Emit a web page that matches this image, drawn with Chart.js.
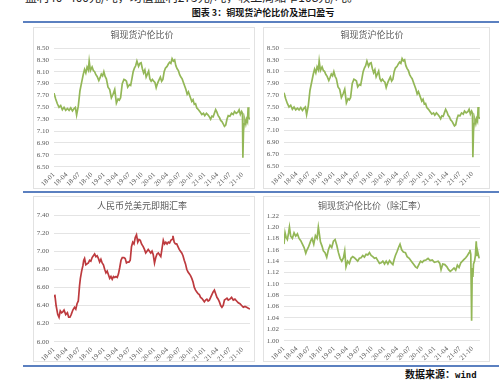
<!DOCTYPE html>
<html lang="zh">
<head>
<meta charset="UTF-8">
<title>铜现货沪伦比价及进口盈亏</title>
<script src="https://cdn.jsdelivr.net/npm/chart.js"></script>
<style>
    body { margin: 0; width: 499px; height: 388px; overflow: hidden; background: #fff; position: relative;
           font-family: "Noto Sans CJK SC", sans-serif; }
    .lead { position: absolute; left: 25px; top: -12px; font-size: 12px; color: #222; white-space: nowrap; }
    .heading { position: absolute; left: 0; width: 526px; top: 6px; text-align: center; font-size: 9px;
               font-weight: bold; color: #111; }
    .rule { position: absolute; left: 23px; right: 0; height: 2px; background: #5b80c0; }
    .panel { position: absolute; border: 1px solid #e2e2e2; background: #fff; }
    .panel canvas { display: block; }
    .source { position: absolute; left: 405px; top: 366px; font-size: 10px; font-weight: bold; color: #111; white-space: nowrap; }
    .source span { font-family: "DejaVu Sans Mono", monospace; font-size: 9px; }
</style>
</head>
<body>
<div class="lead">盈利40~400元/吨，均值盈利275元/吨，较上周缩窄108元/吨。</div>
<div class="heading">图表 3：铜现货沪伦比价及进口盈亏</div>
<div class="rule" style="top:21px"></div>

<div class="panel" style="left:33px;top:27px;width:220px;height:160px"><canvas id="c1" width="220" height="160"></canvas></div>
<div class="panel" style="left:263px;top:27px;width:225px;height:160px"><canvas id="c2" width="225" height="160"></canvas></div>
<div class="rule" style="top:191px"></div>
<div class="panel" style="left:33px;top:196px;width:220px;height:164px"><canvas id="c3" width="220" height="164"></canvas></div>
<div class="panel" style="left:263px;top:196px;width:225px;height:164px"><canvas id="c4" width="225" height="164"></canvas></div>
<div class="rule" style="top:365px"></div>
<div class="source">数据来源：<span>wind</span></div>

<script>
    // x values are months counted from 2018-01
    const quarterLabels = ['18-01', '18-04', '18-07', '18-10', '19-01', '19-04', '19-07', '19-10',
                           '20-01', '20-04', '20-07', '20-10', '21-01', '21-04', '21-07', '21-10'];

    // 铜现货沪伦比价
    const ratioMonths = [
        0, 0.4, 0.8, 1.2, 1.6, 2.0, 2.4, 2.8, 3.2, 3.6,
        4.0, 4.4, 4.8, 5.1, 5.4, 5.8, 6.2, 6.6, 7.0, 7.3,
        7.6, 7.9, 8.2, 8.4, 8.7, 9.1, 9.4, 9.7, 10.0, 10.3,
        10.7, 11.0, 11.3, 11.6, 11.9, 12.2, 12.5, 12.9, 13.3, 13.7,
        14.1, 14.5, 14.9, 15.3, 15.6, 15.9, 16.3, 16.7, 17.0, 17.3,
        17.6, 18.0, 18.3, 18.6, 18.9, 19.2, 19.5, 19.8, 20.2, 20.5,
        20.8, 21.1, 21.4, 21.7, 22.0, 22.3, 22.6, 22.9, 23.2, 23.5,
        23.8, 24.1, 24.4, 24.7, 25.0, 25.4, 25.7, 26.0, 26.3, 26.6,
        27.0, 27.3, 27.6, 27.9, 28.2, 28.5, 28.8, 29.1, 29.4, 29.7,
        30.0, 30.3, 30.6, 30.9, 31.2, 31.5, 31.8, 32.1, 32.5, 32.9,
        33.2, 33.5, 33.8, 34.1, 34.5, 34.9, 35.3, 35.7, 36.0, 36.4,
        36.8, 37.1, 37.4, 37.7, 38.0, 38.3, 38.6, 38.9, 39.2, 39.5,
        39.8, 40.1, 40.4, 40.7, 41.0, 41.3, 41.6, 42.0, 42.4, 42.8,
        43.1, 43.5, 43.9, 44.2, 44.5, 44.8, 45.0, 45.1, 45.25, 45.4,
        45.6, 45.8, 46.0, 46.2, 46.35, 46.5, 46.8
    ];
    const ratioValues = [
        7.74, 7.64, 7.56, 7.50, 7.53, 7.46, 7.50, 7.45, 7.48, 7.45,
        7.49, 7.44, 7.48, 7.50, 7.37, 7.52, 7.78, 7.92, 8.06, 8.14,
        8.08, 8.18, 8.13, 8.28, 8.12, 8.18, 8.12, 8.10, 8.05, 8.02,
        7.95, 8.00, 8.06, 8.03, 8.10, 8.02, 7.98, 7.84, 7.80, 7.66,
        7.72, 7.80, 7.57, 7.64, 7.62, 7.66, 7.90, 7.97, 7.96, 7.94,
        7.84, 7.88, 7.87, 7.98, 8.10, 8.16, 8.20, 8.28, 8.19, 8.24,
        8.25, 8.15, 8.08, 8.13, 8.01, 8.06, 8.11, 7.98, 7.94, 7.97,
        7.94, 7.92, 7.83, 7.90, 7.95, 8.01, 7.94, 7.97, 8.10, 8.16,
        8.19, 8.23, 8.26, 8.24, 8.32, 8.28, 8.30, 8.20, 8.15, 8.12,
        8.05, 8.01, 7.98, 7.92, 7.86, 7.80, 7.72, 7.76, 7.68, 7.60,
        7.63, 7.55, 7.56, 7.49, 7.46, 7.42, 7.38, 7.40, 7.36, 7.40,
        7.37, 7.34, 7.30, 7.35, 7.34, 7.40, 7.46, 7.42, 7.36, 7.33,
        7.28, 7.26, 7.22, 7.18, 7.20, 7.30, 7.36, 7.35, 7.40, 7.38,
        7.43, 7.40, 7.42, 7.46, 7.38, 7.43, 7.40, 6.65, 7.10, 7.22,
        7.28, 7.22, 7.30, 7.26, 7.50, 7.33, 7.30
    ];

    // 人民币兑美元即期汇率
    const fxMonths = [
        0, 0.2, 0.5, 0.9, 1.2, 1.5, 1.8, 2.1, 2.4, 2.8,
        3.2, 3.5, 3.8, 4.1, 4.5, 4.9, 5.2, 5.5, 5.8, 6.1,
        6.3, 6.6, 6.9, 7.1, 7.3, 7.6, 7.9, 8.2, 8.5, 8.8,
        9.1, 9.4, 9.7, 10.0, 10.3, 10.6, 10.9, 11.2, 11.5, 11.8,
        12.1, 12.4, 12.7, 13.0, 13.3, 13.6, 13.9, 14.2, 14.5, 14.8,
        15.1, 15.4, 15.7, 16.0, 16.3, 16.7, 17.0, 17.3, 17.6, 17.9,
        18.2, 18.5, 18.8, 19.1, 19.4, 19.7, 20.0, 20.3, 20.6, 20.9,
        21.3, 21.6, 21.9, 22.2, 22.5, 22.8, 23.1, 23.4, 23.7, 24.0,
        24.3, 24.6, 24.9, 25.2, 25.5, 25.8, 26.1, 26.4, 26.7, 27.0,
        27.3, 27.6, 27.9, 28.2, 28.4, 28.7, 29.0, 29.3, 29.6, 29.9,
        30.2, 30.5, 30.8, 31.1, 31.4, 31.7, 32.0, 32.3, 32.6, 32.9,
        33.2, 33.5, 33.8, 34.1, 34.4, 34.7, 35.0, 35.3, 35.6, 35.9,
        36.2, 36.5, 36.8, 37.1, 37.4, 37.7, 38.0, 38.3, 38.6, 38.9,
        39.2, 39.5, 39.8, 40.1, 40.4, 40.7, 41.0, 41.3, 41.6, 42.0,
        42.4, 42.8, 43.2, 43.6, 44.0, 44.4, 44.8, 45.2, 45.6, 46.0,
        46.4, 46.8
    ];
    const fxValues = [
        6.50, 6.52, 6.40, 6.30, 6.27, 6.34, 6.32, 6.33, 6.35, 6.30,
        6.32, 6.27, 6.27, 6.30, 6.35, 6.38, 6.36, 6.42, 6.45, 6.62,
        6.70, 6.78, 6.84, 6.90, 6.92, 6.85, 6.86, 6.87, 6.90, 6.89,
        6.93, 6.95, 6.97, 6.94, 6.95, 6.92, 6.88, 6.91, 6.87, 6.85,
        6.80, 6.76, 6.78, 6.74, 6.70, 6.72, 6.69, 6.72, 6.71, 6.72,
        6.71, 6.75, 6.82, 6.90, 6.93, 6.93, 6.92, 6.87, 6.88, 6.88,
        6.90, 7.05, 7.10, 7.08, 7.15, 7.18, 7.10, 7.13, 7.12, 7.08,
        7.05, 7.02, 6.98, 7.00, 7.02, 7.00, 6.98, 7.00, 6.96, 6.87,
        6.93, 6.97, 6.98, 6.96, 6.94, 7.03, 7.12, 7.08, 7.10, 7.08,
        7.10, 7.09, 7.12, 7.13, 7.17, 7.10, 7.08, 7.08, 7.05, 7.02,
        7.00, 6.98, 6.95, 6.90, 6.86, 6.80, 6.77, 6.75, 6.73, 6.70,
        6.66, 6.60, 6.57, 6.55, 6.53, 6.52, 6.49, 6.48, 6.46, 6.44,
        6.46, 6.47, 6.45, 6.46, 6.49, 6.52, 6.55, 6.57, 6.53, 6.49,
        6.47, 6.44, 6.40, 6.38, 6.40, 6.46, 6.47, 6.48, 6.46, 6.47,
        6.49, 6.46, 6.47, 6.45, 6.43, 6.42, 6.40, 6.38, 6.39, 6.38,
        6.37, 6.36
    ];

    // 铜现货沪伦比价（除汇率）
    const adjMonths = [
        0, 0.25, 0.5, 0.8, 1.1, 1.3, 1.6, 2.0, 2.4, 2.8,
        3.2, 3.6, 4.0, 4.4, 4.8, 5.2, 5.5, 5.8, 6.1, 6.4,
        6.7, 7.1, 7.5, 7.9, 8.2, 8.4, 8.7, 9.1, 9.4, 9.8,
        10.2, 10.6, 11.0, 11.4, 11.8, 12.2, 12.6, 13.0, 13.4, 13.8,
        14.2, 14.5, 14.8, 15.2, 15.6, 16.0, 16.4, 16.8, 17.2, 17.6,
        18.0, 18.4, 18.8, 19.2, 19.6, 20.0, 20.4, 20.8, 21.2, 21.6,
        22.0, 22.4, 22.8, 23.2, 23.6, 24.0, 24.4, 24.8, 25.2, 25.6,
        26.0, 26.3, 26.6, 27.0, 27.4, 27.7, 28.1, 28.5, 29.0, 29.4,
        29.9, 30.4, 30.9, 31.4, 31.8, 32.2, 32.6, 33.0, 33.4, 33.9,
        34.4, 34.9, 35.4, 35.9, 36.4, 36.8, 37.2, 37.5, 37.9, 38.4,
        38.9, 39.3, 39.7, 40.2, 40.6, 41.0, 41.4, 41.8, 42.2, 42.6,
        43.0, 43.4, 43.8, 44.2, 44.4, 44.6, 44.8, 44.95, 45.1, 45.25,
        45.5, 45.7, 45.9, 46.1, 46.3, 46.6
    ];
    const adjValues = [
        1.170, 1.190, 1.182, 1.178, 1.190, 1.200, 1.184, 1.180, 1.190, 1.184,
        1.188, 1.180, 1.176, 1.170, 1.164, 1.154, 1.160, 1.164, 1.170, 1.176,
        1.180, 1.170, 1.185, 1.180, 1.200, 1.190, 1.174, 1.166, 1.158, 1.155,
        1.147, 1.160, 1.168, 1.164, 1.175, 1.178, 1.168, 1.155, 1.145, 1.140,
        1.146, 1.158, 1.130, 1.140, 1.136, 1.145, 1.148, 1.146, 1.143, 1.140,
        1.145, 1.146, 1.150, 1.147, 1.152, 1.151, 1.155, 1.150, 1.148, 1.145,
        1.146, 1.141, 1.136, 1.137, 1.140, 1.135, 1.140, 1.135, 1.141, 1.137,
        1.134, 1.143, 1.150, 1.157, 1.165, 1.170, 1.160, 1.156, 1.155, 1.148,
        1.145, 1.140, 1.135, 1.130, 1.128, 1.134, 1.140, 1.138, 1.141, 1.142,
        1.145, 1.141, 1.142, 1.138, 1.139, 1.140, 1.136, 1.125, 1.135, 1.134,
        1.130, 1.125, 1.122, 1.125, 1.128, 1.124, 1.133, 1.129, 1.137, 1.140,
        1.143, 1.146, 1.150, 1.155, 1.160, 1.152, 1.035, 1.128, 1.112, 1.135,
        1.140, 1.150, 1.175, 1.150, 1.155, 1.145
    ];

    const green = '#93b757';
    const red = '#bd3a3e';
    const tickFont = { family: 'Liberation Serif', size: 7 };

    function drawPanel(id, title, xs, ys, color, yMin, yMax, yStep, plotTop, titleTop, axisHeight, padRight) {
        const points = xs.map((x, i) => ({ x: x, y: ys[i] }));
        return new Chart(document.getElementById(id), {
            type: 'line',
            data: {
                datasets: [{
                    data: points,
                    borderColor: color,
                    borderWidth: 1.7,
                    pointRadius: 0,
                    tension: 0
                }]
            },
            options: {
                responsive: false,
                animation: false,
                layout: { padding: { top: 0, right: padRight, bottom: 0, left: 0 } },
                plugins: {
                    legend: { display: false },
                    tooltip: { enabled: false },
                    title: {
                        display: true,
                        text: title,
                        color: '#595959',
                        font: { family: 'Noto Sans CJK SC', size: 9, weight: 'normal', lineHeight: 1.2 },
                        padding: { top: titleTop, bottom: plotTop - titleTop - 10.8 }
                    }
                },
                scales: {
                    x: {
                        type: 'linear',
                        min: 0,
                        max: 46.8,
                        grid: { display: false, drawTicks: false },
                        border: { display: false },
                        afterFit: (s) => { s.height = axisHeight; },
                        ticks: {
                            stepSize: 3,
                            includeBounds: false,
                            autoSkip: false,
                            minRotation: 45,
                            maxRotation: 45,
                            padding: 4,
                            color: '#595959',
                            font: tickFont,
                            callback: (v) => quarterLabels[Math.round(v / 3)]
                        }
                    },
                    y: {
                        min: yMin,
                        max: yMax,
                        afterFit: (s) => { s.width = 20; },
                        grid: { color: '#e4e4e4', drawTicks: false },
                        border: { display: false },
                        ticks: {
                            stepSize: yStep,
                            autoSkip: false,
                            padding: 5,
                            color: '#595959',
                            font: tickFont,
                            callback: (v) => v.toFixed(2)
                        }
                    }
                }
            }
        });
    }

    drawPanel('c1', '铜现货沪伦比价', ratioMonths, ratioValues, green, 6.5, 8.5, 0.2, 20, 1, 21.3, 4);
    drawPanel('c2', '铜现货沪伦比价', ratioMonths, ratioValues, green, 6.5, 8.5, 0.2, 20, 1, 22, 9);
    drawPanel('c3', '人民币兑美元即期汇率', fxMonths, fxValues, red, 6.0, 7.4, 0.2, 18, 3, 19.3, 4);
    drawPanel('c4', '铜现货沪伦比价（除汇率）', adjMonths, adjValues, green, 1.0, 1.22, 0.02, 18.7, 3, 20.3, 9);
</script>
</body>
</html>
